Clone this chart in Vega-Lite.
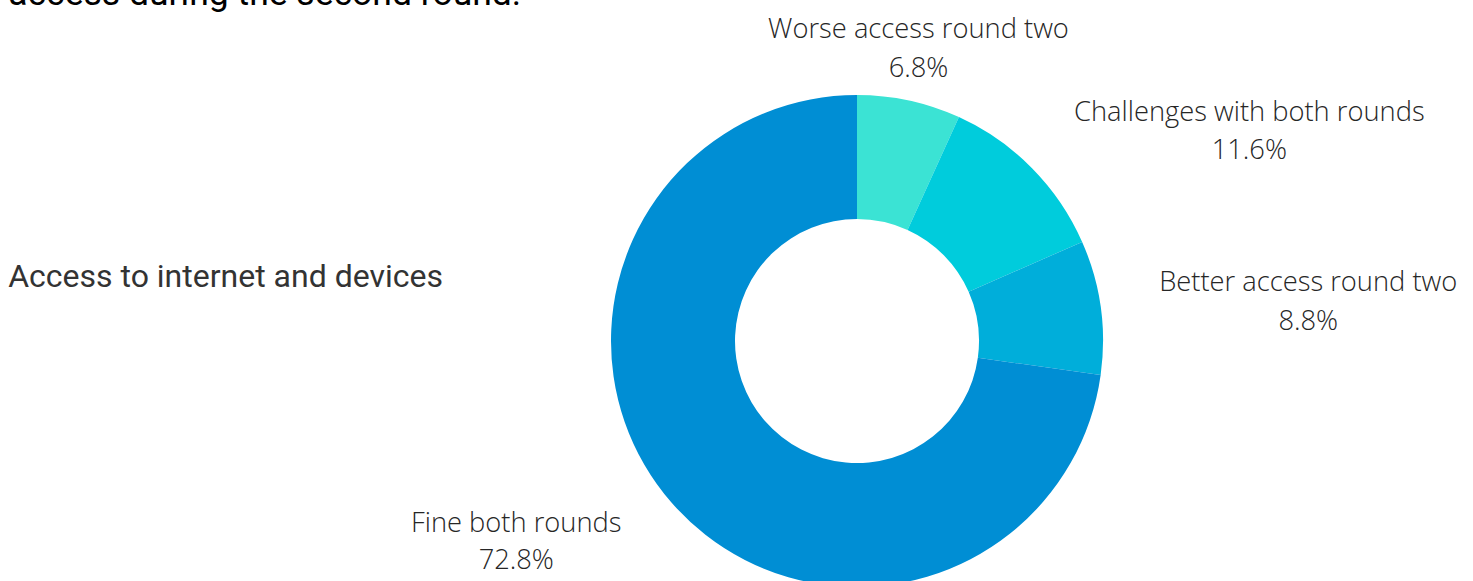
{
  "$schema": "https://vega.github.io/schema/vega-lite/v6.json",
  "padding": {"left": 8, "top": -24, "right": 5, "bottom": 5},
  "background": "white",
  "title": {"text": "access during the second round.", "anchor": "start", "font": "Roboto", "fontSize": 35.5, "fontWeight": "normal", "color": "#000000", "offset": 3.5},
  "data": {"values": [
    {"topic": "Access to internet and devices", "category": "Worse access round two", "share": 6.8, "idx": 1},
    {"topic": "Access to internet and devices", "category": "Challenges with both rounds", "share": 11.6, "idx": 2},
    {"topic": "Access to internet and devices", "category": "Better access round two", "share": 8.8, "idx": 3},
    {"topic": "Access to internet and devices", "category": "Fine both rounds", "share": 72.8, "idx": 4}
  ]},
  "transform": [{"calculate": "datum.category + '\\n' + format(datum.share, '.1f') + '%'", "as": "label"}],
  "facet": {"row": {"field": "topic", "type": "nominal", "title": null,
    "header": {"labelOrient": "left", "labelAngle": 0, "labelAnchor": "start", "labelBaseline": "line-bottom", "labelLineHeight": 255, "labelFont": "Roboto", "labelFontSize": 32, "labelColor": "#333333", "labelPadding": -32, "labelLimit": 0}}},
  "spec": {
    "width": 732,
    "height": 128,
    "encoding": {
      "theta": {"field": "share", "type": "quantitative", "stack": true},
      "order": {"field": "idx", "type": "quantitative"}
    },
    "layer": [
      {"mark": {"type": "arc", "innerRadius": 122, "outerRadius": 246},
       "encoding": {"color": {"field": "category", "type": "nominal", "legend": null,
         "scale": {"domain": ["Worse access round two", "Challenges with both rounds", "Better access round two", "Fine both rounds"],
                   "range": ["#3be3d4", "#00ccdc", "#00aeda", "#008ed4"]}}}},
      {"mark": {"type": "text", "radius": 290, "align": "center", "baseline": "middle", "lineBreak": "\n", "lineHeight": 39, "font": "Open Sans", "fontWeight": 300, "fontSize": 27.3, "color": "#262626", "dx": 0, "dy": -28},
       "encoding": {"text": {"condition": {"test": "datum.category === 'Worse access round two'", "field": "label", "type": "nominal"}, "value": ""}}},
      {"mark": {"type": "text", "radius": 290, "align": "center", "baseline": "middle", "lineBreak": "\n", "lineHeight": 38, "font": "Open Sans", "fontWeight": 300, "fontSize": 27.3, "color": "#262626", "dx": 186, "dy": -24},
       "encoding": {"text": {"condition": {"test": "datum.category === 'Challenges with both rounds'", "field": "label", "type": "nominal"}, "value": ""}}},
      {"mark": {"type": "text", "radius": 290, "align": "center", "baseline": "middle", "lineBreak": "\n", "lineHeight": 39, "font": "Open Sans", "fontWeight": 300, "fontSize": 27.3, "color": "#262626", "dx": 164, "dy": -18},
       "encoding": {"text": {"condition": {"test": "datum.category === 'Better access round two'", "field": "label", "type": "nominal"}, "value": ""}}},
      {"mark": {"type": "text", "radius": 290, "align": "center", "baseline": "middle", "lineBreak": "\n", "lineHeight": 37, "font": "Open Sans", "fontWeight": 300, "fontSize": 27.3, "color": "#262626", "dx": -122, "dy": -7},
       "encoding": {"text": {"condition": {"test": "datum.category === 'Fine both rounds'", "field": "label", "type": "nominal"}, "value": ""}}}
    ]
  },
  "config": {"view": {"stroke": null}}
}
